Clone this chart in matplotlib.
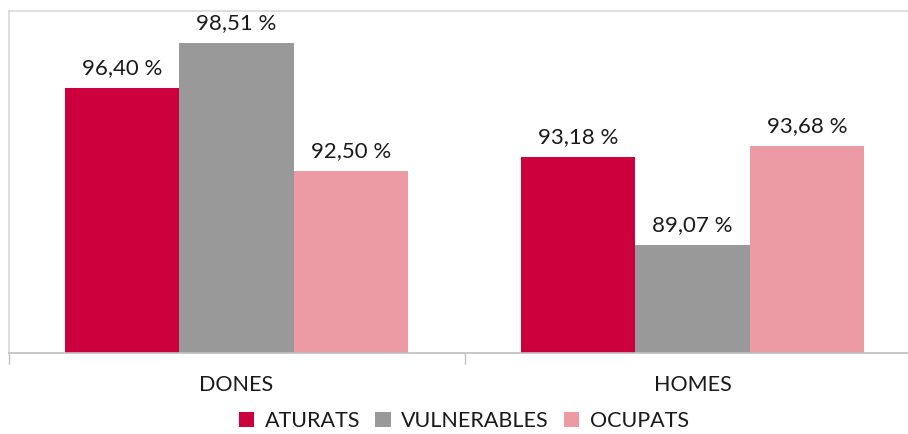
import matplotlib
matplotlib.use("Agg")
import matplotlib.pyplot as plt
from matplotlib.patches import Patch
import numpy as np

plt.rcParams['font.family'] = ['Lato', 'DejaVu Sans']

categories = ["DONES", "HOMES"]
series_names = ["ATURATS", "VULNERABLES", "OCUPATS"]
aturats = [96.40, 93.18]
vulnerables = [98.51, 89.07]
ocupats = [92.50, 93.68]
colors = ["#CC003D", "#999999", "#EC9AA3"]

values = [aturats, vulnerables, ocupats]

W, H = 908, 434
fig = plt.figure(figsize=(W / 100, H / 100), dpi=100)
left_px, right_px, top_px, bottom_px = 8.5, 920.5, 11, 353
ax = fig.add_axes([left_px / W, 1 - bottom_px / H,
                   (right_px - left_px) / W, (bottom_px - top_px) / H])

x = np.arange(len(categories))
bw = 0.251
for i, (vals, col) in enumerate(zip(values, colors)):
    pos = x + (i - 1) * bw
    bars = ax.bar(pos, vals, width=bw, color=col, zorder=2)
    for b, v in zip(bars, vals):
        lbl = f"{v:.2f}".replace(".", ",") + " %"
        ax.annotate(lbl, (b.get_x() + b.get_width() / 2, v),
                    xytext=(0, 10), textcoords="offset points",
                    ha="center", va="baseline", fontsize=16, color="#1a1a1a")

ax.set_ylim(84, 100)
ax.set_xlim(-0.5, 1.5)
ax.set_yticks([])
ax.set_xticks(x)
ax.set_xticklabels(categories, fontsize=15.5, color="#1a1a1a")
ax.tick_params(axis="x", which="major", length=0, pad=16)
ax.set_xticks([-0.5, 0.5, 1.5], minor=True)
ax.tick_params(axis="x", which="minor", length=8, width=1, color="#bfbfbf")

for s in ["top", "left", "right"]:
    ax.spines[s].set_color("#d9d9d9")
    ax.spines[s].set_linewidth(1.2)
ax.spines["bottom"].set_color("#bfbfbf")
ax.spines["bottom"].set_linewidth(1.2)

handles = [Patch(facecolor=c, label=n) for c, n in zip(colors, series_names)]
fig.legend(handles=handles, loc="center", ncol=3, frameon=False,
           bbox_to_anchor=(464 / W, 1 - 421 / H), fontsize=15.5,
           handlelength=0.7, handleheight=0.7, handletextpad=0.5,
           columnspacing=0.7, labelcolor="#1a1a1a")

fig.savefig("out.png", dpi=100)
